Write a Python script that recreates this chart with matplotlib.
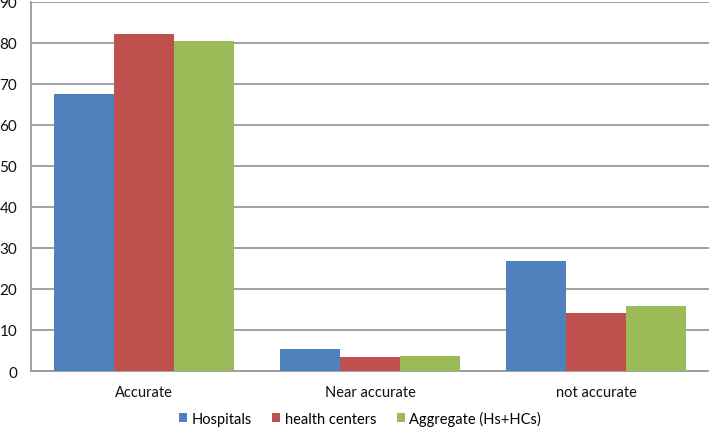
import matplotlib
matplotlib.use("Agg")
import matplotlib.pyplot as plt
import numpy as np

categories = ["Accurate", "Near accurate", "not accurate"]
series_names = ["Hospitals", "health centers", "Aggregate (Hs+HCs)"]
hospitals = [67.6, 5.4, 26.8]
health_centers = [82.2, 3.4, 14.2]
aggregate = [80.4, 3.7, 15.9]
yticks = [0, 10, 20, 30, 40, 50, 60, 70, 80, 90]

colors = ["#4F81BD", "#C0504D", "#9BBB59"]

plt.rcParams['font.family'] = ['Lato', 'DejaVu Sans']

fig = plt.figure(figsize=(7.09, 4.35), dpi=100)
ax = fig.add_axes([31/709, 1-372/435, 1-31/709, (372-3)/435])

x = np.arange(len(categories))
w = 0.8/3
for i, (vals, name) in enumerate(zip([hospitals, health_centers, aggregate], series_names)):
    ax.bar(x + (i-1)*w, vals, width=w, color=colors[i], label=name, zorder=3, linewidth=0)

ax.set_xlim(-0.5, len(categories)-0.5)
ax.set_ylim(0, 90)
ax.set_yticks(yticks)
ax.set_yticklabels([str(t) for t in yticks], fontsize=11, color="#111111")
ax.set_xticks(x)
ax.set_xticklabels(categories, fontsize=10.5, color="#111111")
ax.tick_params(axis='y', length=0, pad=10)
ax.tick_params(axis='x', length=0, pad=10)
ax.yaxis.grid(True, color="#9a9a9a", linewidth=1.3, zorder=0)
ax.set_axisbelow(True)
for s in ["top", "right"]:
    ax.spines[s].set_visible(False)
ax.spines["left"].set_color("#9a9a9a")
ax.spines["left"].set_linewidth(1.3)
ax.spines["bottom"].set_color("#9a9a9a")
ax.spines["bottom"].set_linewidth(1.3)

fig.legend(loc="center", bbox_to_anchor=(360/709, 1-419/435), ncol=3, frameon=False,
           fontsize=10.5, handlelength=0.55, handleheight=0.55, handletextpad=0.3,
           columnspacing=1.4)

fig.savefig("out.png", dpi=100)
